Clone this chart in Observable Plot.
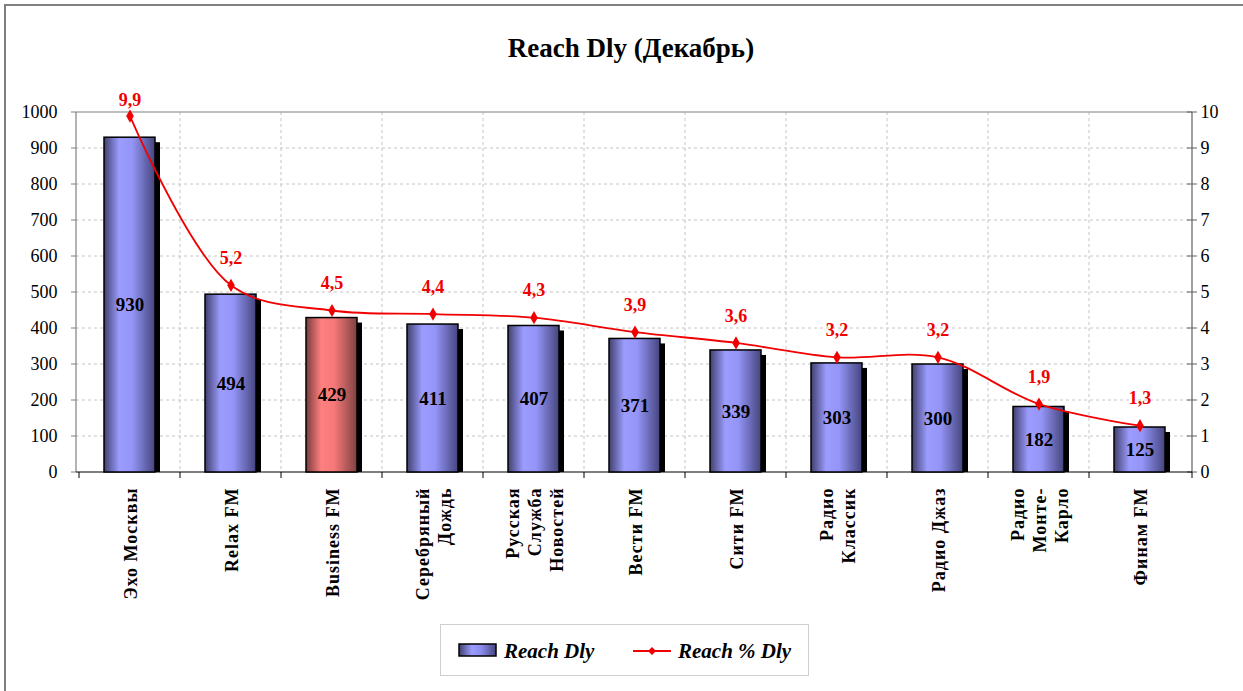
<!DOCTYPE html>
<html><head><meta charset="utf-8">
<script src="https://cdn.jsdelivr.net/npm/d3@7"></script>
<script src="https://cdn.jsdelivr.net/npm/@observablehq/plot@0.6"></script>
<style>
body{margin:0;background:#fff;font-family:"Liberation Serif","Times New Roman",serif;overflow:hidden;}
#frame{position:absolute;left:4px;top:4px;width:1300px;height:760px;border-left:2px solid #808080;border-top:2px solid #808080;}
#title{position:absolute;left:0;top:33px;width:1262px;text-align:center;font-weight:bold;font-size:27px;color:#000;}
#chart{position:absolute;left:0;top:70px;}
#chart g[aria-label="x-axis tick label"]{letter-spacing:1px;}
#legend{position:absolute;left:440px;top:624px;width:367px;height:50px;border:1px solid #cfcfcf;background:#fff;}
#legend svg{position:absolute;left:0;top:0;}
#legend text{font-family:"Liberation Serif","Times New Roman",serif;font-weight:bold;font-style:italic;font-size:21px;}
</style></head>
<body>
<div id="frame"></div>
<div id="title">Reach Dly (Декабрь)</div>
<div id="chart"></div>
<div id="legend">
<svg width="367" height="50">
<defs><linearGradient id="lgBlue" x1="0" x2="1" y1="0" y2="0">
<stop offset="0%" stop-color="#40406e"/><stop offset="35%" stop-color="#9c9cff"/><stop offset="60%" stop-color="#8c8cec"/><stop offset="100%" stop-color="#45457e"/></linearGradient></defs>
<rect x="18" y="19" width="37" height="12" fill="url(#lgBlue)" stroke="#000" stroke-width="1.5"/>
<text x="63" y="33">Reach Dly</text>
<line x1="192" x2="230" y1="26" y2="26" stroke="#f00000" stroke-width="1.8"/>
<path d="M211,22 L215,26 L211,30 L207,26 Z" fill="#f00000"/>
<text x="237" y="33">Reach % Dly</text>
</svg>
</div>
<script>
const stations = ["Эхо Москвы","Relax FM","Business FM","Серебряный\nДождь","Русская\nСлужба\nНовостей","Вести FM","Сити FM","Радио\nКлассик","Радио Джаз","Радио\nМонте-\nКарло","Финам FM"];
const reachDly = [930,494,429,411,407,371,339,303,300,182,125];
const reachPct = [9.9,5.2,4.5,4.4,4.3,3.9,3.6,3.2,3.2,1.9,1.3];
const leftTicks = [0,100,200,300,400,500,600,700,800,900,1000];
const rightTicks = [0,1,2,3,4,5,6,7,8,9,10];
const highlight = "Business FM";

const data = stations.map((s,i)=>({station:s, reach:reachDly[i], pct:reachPct[i]}));
const RED = "#f00000";

function defs(){
  const d = d3.create("svg:defs");
  const mk = (id, stops) => {
    const g = d.append("linearGradient").attr("id", id).attr("x1","0").attr("x2","1").attr("y1","0").attr("y2","0");
    stops.forEach(([o,c]) => g.append("stop").attr("offset", o).attr("stop-color", c));
  };
  mk("gBlue", [["0%","#40406e"],["30%","#9c9cff"],["55%","#9595f8"],["100%","#45457e"]]);
  mk("gRed", [["0%","#7a3c3c"],["30%","#ff8080"],["55%","#f87878"],["100%","#7e4242"]]);
  return d.node();
}

function guides(index, scales, values, dims){
  const x = scales.x, y = scales.y;
  const {width, height, marginLeft, marginRight, marginTop, marginBottom} = dims;
  const x0 = marginLeft, x1 = width - marginRight, yT = marginTop, yB = height - marginBottom;
  const g = d3.create("svg:g");
  const bounds = stations.map(s => x(s)).concat([x1]);
  leftTicks.filter(t => t > 0 && t < 1000).forEach(t => {
    g.append("line").attr("x1", x0).attr("x2", x1).attr("y1", y(t)).attr("y2", y(t))
      .attr("stroke", "#c4c4c4").attr("stroke-dasharray", "3,3");
  });
  bounds.slice(1, -1).forEach(b => {
    g.append("line").attr("x1", b).attr("x2", b).attr("y1", yT).attr("y2", yB)
      .attr("stroke", "#c4c4c4").attr("stroke-dasharray", "3,3");
  });
  g.append("line").attr("x1", x0).attr("x2", x1).attr("y1", y(1000)).attr("y2", y(1000)).attr("stroke", "#a8a8a8").attr("stroke-width", 1.5);
  g.append("line").attr("x1", x0).attr("x2", x0).attr("y1", yT).attr("y2", yB).attr("stroke", "#808080").attr("stroke-width", 1.2);
  leftTicks.forEach(t => g.append("line").attr("x1", x0-5).attr("x2", x0).attr("y1", y(t)).attr("y2", y(t)).attr("stroke", "#808080"));
  g.append("line").attr("x1", x1).attr("x2", x1).attr("y1", yT).attr("y2", yB).attr("stroke", "#606060").attr("stroke-width", 1.2);
  rightTicks.forEach(t => g.append("line").attr("x1", x1-5).attr("x2", x1+5).attr("y1", y(t*100)).attr("y2", y(t*100)).attr("stroke", "#606060"));
  g.append("line").attr("x1", x0).attr("x2", x1).attr("y1", yB).attr("y2", yB).attr("stroke", "#000").attr("stroke-width", 1.2);
  bounds.forEach(b => g.append("line").attr("x1", b).attr("x2", b).attr("y1", yB).attr("y2", yB+6).attr("stroke", "#000"));
  return g.node();
}

const pctLabel = d => d.pct.toFixed(1).replace(".", ",");

const plot = Plot.plot({
  width: 1243,
  height: 542,
  marginLeft: 76,
  marginRight: 51,
  marginTop: 42,
  marginBottom: 140,
  style: {fontFamily: "Liberation Serif, Times New Roman, serif", fontSize: "18px", background: "transparent", overflow: "visible"},
  x: {domain: stations, paddingInner: 0, paddingOuter: 0},
  y: {domain: [0, 1000]},
  marks: [
    defs,
    guides,
    Plot.barY(data, {x: "station", y: "reach", fill: "#000", dx: 5, dy: 5, insetLeft: 25, insetRight: 25, insetBottom: 5}),
    Plot.barY(data, {filter: d => d.station !== highlight, x: "station", y: "reach", fill: "url(#gBlue)", stroke: "#000", strokeWidth: 1.5, insetLeft: 25, insetRight: 25}),
    Plot.barY(data, {filter: d => d.station === highlight, x: "station", y: "reach", fill: "url(#gRed)", stroke: "#000", strokeWidth: 1.5, insetLeft: 25, insetRight: 25}),
    Plot.text(data, {x: "station", y: d => d.reach / 2, text: d => String(d.reach), fontWeight: "bold", fontSize: 19, fill: "#000"}),
    Plot.line(data, {x: "station", y: d => d.pct * 100, stroke: RED, strokeWidth: 1.8, curve: "catmull-rom"}),
    Plot.dot(data, {x: "station", y: d => d.pct * 100, symbol: "diamond", r: 4, fill: RED, stroke: "none"}),
    Plot.text(data.slice(0, 1), {x: "station", y: d => d.pct * 100, text: pctLabel, dy: -16, fill: RED, fontWeight: "bold", fontSize: 18}),
    Plot.text(data.slice(1), {x: "station", y: d => d.pct * 100, text: pctLabel, dy: -27, fill: RED, fontWeight: "bold", fontSize: 18}),
    Plot.axisY(leftTicks, {anchor: "left", tickSize: 0, tickPadding: 19, fontSize: 18, fill: "#000", label: null, tickFormat: d => String(d)}),
    Plot.axisY(leftTicks, {anchor: "right", tickSize: 0, tickPadding: 8, fontSize: 18, fill: "#000", label: null, tickFormat: d => String(d / 100)}),
    Plot.axisX({anchor: "bottom", tickSize: 0, tickPadding: 15, tickRotate: -90, fontSize: 18, fontWeight: "bold", lineHeight: 1.22, fill: "#000", label: null})
  ]
});
document.getElementById("chart").appendChild(plot);
</script>
</body></html>
